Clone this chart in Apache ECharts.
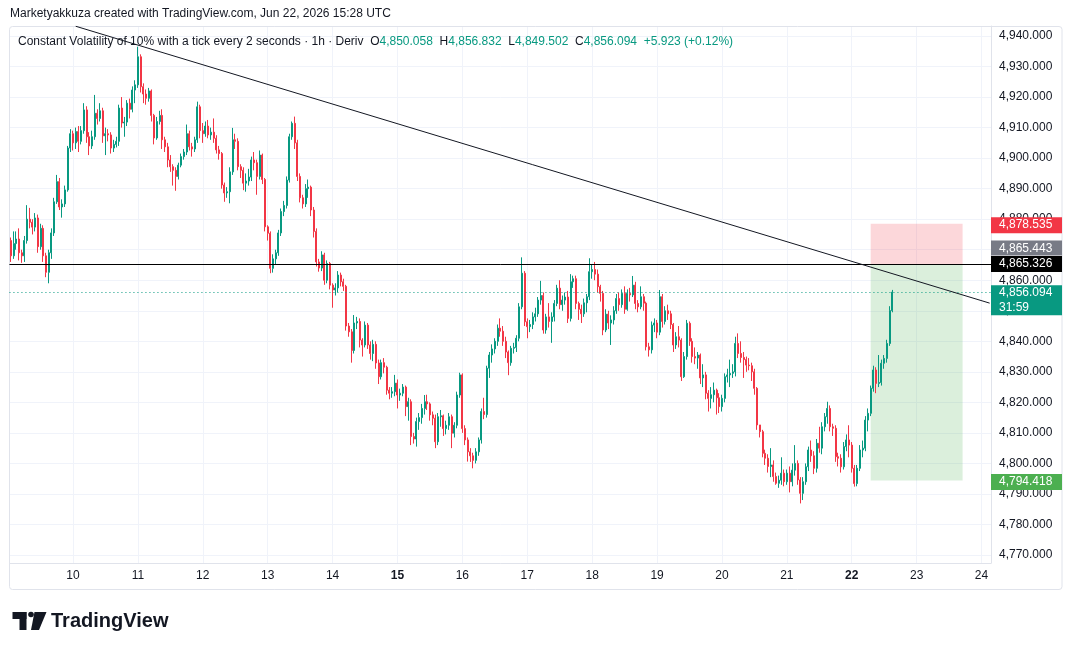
<!DOCTYPE html>
<html>
<head>
<meta charset="utf-8">
<script src="https://cdn.jsdelivr.net/npm/echarts@6/dist/echarts.min.js"></script>
<style>
  html, body { margin: 0; padding: 0; background: #fff; }
  #chart { width: 1072px; height: 650px; }
</style>
</head>
<body>
<div id="chart"></div>
<script>
// hourly bars, first one Jun 9 01:00 UTC, last one Jun 22 15:00 UTC
var firstOpen = 4873;

var closes = [
  // Jun 9
  4868, 4872, 4873.5, 4869, 4868, 4873, 4880, 4879, 4877.4, 4880.4, 4871, 4877, 4868, 4862.6, 4869, 4875.5, 4885.7, 4892.3, 4884, 4885, 4889.6, 4903.3, 4908,
  // Jun 10
  4905, 4908.7, 4905.5, 4909, 4915.8, 4907, 4904, 4907, 4914.7, 4913, 4915.5, 4907.3, 4908, 4907.6, 4903.3, 4904.5, 4905.5, 4916.4, 4911.5, 4911.8, 4918, 4916, 4922.3, 4924,
  // Jun 11
  4933.2, 4923.4, 4921, 4919.6, 4922, 4914, 4906.6, 4912, 4914, 4906, 4903.7, 4899.4, 4897.2, 4896, 4894, 4897.7, 4900.5, 4902, 4908, 4903.7, 4903, 4906, 4916.8, 4909,
  // Jun 12
  4908, 4910.5, 4907.6, 4908.5, 4906.5, 4902.7, 4901.5, 4891.2, 4888.6, 4889, 4895.5, 4906, 4905.5, 4897.2, 4896, 4891.8, 4892.5, 4893.8, 4899.4, 4898.5, 4894, 4901, 4893, 4877.5,
  // Jun 13
  4875.4, 4863.9, 4867, 4869, 4875.5, 4882.5, 4884.5, 4892.8, 4907, 4911.4, 4905, 4894, 4887, 4885, 4890, 4890.5, 4883, 4876, 4866, 4864, 4868.3, 4860, 4865.5, 4858.4,
  // Jun 14
  4856.8, 4857.5, 4861.7, 4859.5, 4858, 4845, 4843.1, 4837, 4846, 4846.5, 4840.4, 4838.8, 4845.3, 4838.8, 4836, 4839, 4832.9, 4828.4, 4833, 4831.5, 4824, 4823, 4823.5, 4826.3,
  // Jun 15
  4822.4, 4823, 4825, 4818.6, 4820.2, 4808.8, 4808, 4813.7, 4815, 4818, 4820.2, 4819.5, 4815.9, 4814.8, 4807.1, 4815.3, 4815.6, 4811.4, 4812.5, 4815.3, 4809.9, 4812.5, 4822.4, 4829,
  // Jun 16
  4811.4, 4807.7, 4803.8, 4802.5, 4801, 4803.8, 4807.7, 4817, 4816, 4831.2, 4835.5, 4837.5, 4840, 4844.3, 4843.3, 4840, 4836.5, 4833, 4837.7, 4838, 4841, 4851.3, 4862.3, 4846.4,
  // Jun 17
  4844.8, 4845.5, 4848, 4849, 4853.5, 4855, 4843.7, 4848, 4846.5, 4848, 4852.4, 4857.4, 4852, 4853.5, 4854.5, 4847.5, 4859.5, 4860.5, 4852.4, 4850.5, 4849, 4852.6, 4854.6, 4862.8,
  // Jun 18
  4863.5, 4862, 4857.9, 4855.7, 4843.7, 4848.9, 4846, 4847, 4850, 4854, 4852, 4855.7, 4850.5, 4855.7, 4855.2, 4858.4, 4852.4, 4851.3, 4854.6, 4852.5, 4838.2, 4837.2, 4845.3, 4846,
  // Jun 19
  4843, 4854.6, 4846.5, 4850, 4849, 4845.5, 4838.8, 4841.5, 4840.4, 4828.4, 4835, 4845.9, 4840, 4835, 4834.5, 4835.5, 4828, 4829, 4823, 4821.3, 4822.5, 4824, 4821.5, 4818.6,
  // Jun 20
  4821.3, 4828.4, 4829, 4829.5, 4830, 4839.3, 4836, 4834.7, 4834, 4832.2, 4832, 4830, 4824.6, 4812.6, 4810.4, 4803.3, 4801.7, 4799, 4799.5, 4795.7, 4793.5, 4794.5, 4796.8, 4794,
  // Jun 21
  4796.8, 4794, 4797.8, 4800, 4794.6, 4790.2, 4794, 4798.9, 4804.4, 4802.5, 4798.4, 4806.6, 4805, 4812, 4815.3, 4818, 4812, 4811.5, 4802.2, 4801.7, 4798.9, 4805.5, 4807.7, 4806,
  // Jun 22
  4798.4, 4793.4, 4798.4, 4804.4, 4805, 4814.2, 4816.4, 4824.6, 4830.6, 4826.2, 4826.5, 4832.8, 4834.4, 4839.3, 4850.058, 4856.094
];

var lows = [
  4866, 4867, 4870, 4866.5, 4865.7, 4866, 4872, 4877, 4875, 4876, 4869, 4870, 4866, 4861, 4859, 4867, 4874.5, 4885, 4883, 4880.5, 4884, 4889, 4902,
  4902.5, 4903, 4902, 4904.5, 4908, 4905, 4901, 4903, 4906, 4911, 4912, 4905, 4901, 4905.5, 4901.5, 4902, 4903.5, 4904, 4910, 4907, 4910.5, 4913, 4915, 4918,
  4923, 4921.5, 4918, 4917.5, 4918.5, 4912, 4904.5, 4906, 4911, 4903, 4902, 4897, 4895.5, 4891, 4889.3, 4893, 4897, 4899.5, 4901, 4902.5, 4900.5, 4902, 4905, 4906.5,
  4905, 4907, 4906.5, 4906, 4905, 4901.5, 4899.5, 4890, 4885.7, 4887, 4885.2, 4894.5, 4903, 4896, 4893.5, 4889.5, 4889, 4891, 4892.5, 4896, 4888, 4893, 4891.5, 4876,
  4873, 4862.3, 4862.5, 4865, 4868, 4874.5, 4881, 4883.5, 4892, 4906, 4903, 4892.5, 4885.5, 4883.5, 4884, 4887, 4881, 4874, 4864.5, 4862.8, 4863, 4858.5, 4859, 4857,
  4851, 4855, 4856, 4858, 4856.5, 4843.5, 4841.5, 4833, 4836, 4844, 4838, 4835, 4838, 4837.5, 4834, 4833.5, 4831, 4826, 4827.5, 4829.5, 4822.5, 4821, 4821.5, 4822,
  4818, 4820.5, 4822, 4815.5, 4814, 4806, 4806.5, 4805.5, 4811, 4813, 4816, 4817.5, 4814, 4812.5, 4805, 4806, 4812, 4809, 4809.5, 4811, 4805, 4808.5, 4811.5, 4821.5,
  4810, 4806, 4800.6, 4800.5, 4798.4, 4800, 4802.5, 4806.5, 4814.5, 4815, 4828, 4833, 4836, 4838.5, 4841.5, 4838.5, 4834.5, 4828.9, 4832, 4836, 4836.5, 4840, 4850.5, 4845,
  4841, 4843, 4844, 4846.5, 4848, 4852, 4842.5, 4842.5, 4844.5, 4839.5, 4846.5, 4851.5, 4850.5, 4850, 4852, 4846, 4846.5, 4857.5, 4850.5, 4847, 4846, 4848, 4849.5, 4853.5,
  4860.5, 4860, 4856, 4853, 4842, 4843, 4844, 4838.8, 4845.5, 4849, 4850, 4851, 4849, 4850, 4853, 4854.5, 4850.5, 4849.5, 4850.5, 4850, 4837, 4835, 4836, 4843,
  4841, 4842, 4844.5, 4845.5, 4847, 4844, 4836.5, 4837.5, 4838, 4827, 4828, 4834, 4838.5, 4833, 4832.5, 4831, 4826, 4825, 4821, 4817, 4818, 4820, 4816, 4816.5,
  4817, 4820, 4826.5, 4825, 4828, 4828.5, 4834.5, 4833, 4828, 4830, 4830.5, 4827, 4822.5, 4811, 4808.5, 4802, 4799.5, 4797, 4795.5, 4794, 4793, 4792, 4793, 4792.5,
  4793, 4790.5, 4792.5, 4796, 4793, 4786.9, 4788, 4793, 4797.5, 4800.5, 4796.5, 4797, 4803.5, 4803, 4810.5, 4813, 4810.5, 4809, 4800.5, 4799, 4797, 4798, 4804, 4802,
  4797, 4792.4, 4792.5, 4797.5, 4802, 4804, 4810.5, 4815.5, 4823.5, 4823, 4825, 4825.5, 4831, 4833, 4838.5, 4849.502
];

var highs = [
  4874, 4876, 4876, 4877, 4870, 4874.5, 4884.6, 4883.7, 4880, 4882, 4881.5, 4878.5, 4878, 4869, 4870, 4877, 4887, 4894.5, 4893.5, 4886.5, 4891, 4904, 4909.5,
  4909, 4910, 4910.5, 4910.5, 4918, 4917, 4908.5, 4909, 4920.7, 4916, 4918, 4916.5, 4910, 4909.5, 4908.5, 4906, 4907, 4917.5, 4920, 4913.5, 4919, 4919.5, 4923.5, 4925.5,
  4936.5, 4934, 4924.5, 4922.5, 4923, 4922.5, 4914.5, 4913.5, 4915.5, 4916, 4907, 4905, 4901, 4898, 4897, 4898.5, 4901.5, 4903, 4911, 4909, 4905, 4907, 4918.5, 4917.5,
  4911.5, 4912, 4912.5, 4910, 4913, 4907.5, 4904, 4902, 4892, 4890.5, 4897, 4909.9, 4908, 4906.5, 4898, 4897, 4895, 4896.5, 4900.5, 4902, 4899.5, 4902.5, 4901.5, 4893.5,
  4878, 4876, 4868.5, 4870, 4876.5, 4883.5, 4886, 4894, 4908, 4912, 4913.6, 4906, 4895, 4888, 4891.5, 4893, 4891, 4884, 4877, 4867, 4869.5, 4869, 4866.5, 4866,
  4859, 4859, 4863, 4862.5, 4860.5, 4858.5, 4846, 4844, 4848.6, 4848, 4847.5, 4841, 4846.5, 4846, 4840, 4840.5, 4840, 4834, 4834, 4834.5, 4832, 4825, 4825, 4829,
  4827.5, 4824.5, 4826, 4825.5, 4821.5, 4821, 4810, 4815, 4816.5, 4819.5, 4822.4, 4822.5, 4820, 4817, 4816, 4816.5, 4817.5, 4816, 4814, 4816.5, 4816, 4813.5, 4823.5, 4829.7,
  4829.5, 4812.5, 4808.5, 4805, 4803.5, 4805, 4808.5, 4818, 4821.5, 4832, 4836.5, 4839, 4841, 4845.5, 4847.5, 4845, 4841.5, 4837, 4838.5, 4839.5, 4842, 4852.5, 4867.5, 4863,
  4847.5, 4847, 4849.5, 4851, 4854.5, 4859.8, 4856, 4849, 4852.5, 4849.5, 4853.5, 4858.5, 4860, 4855, 4856, 4856.5, 4862, 4861.5, 4861.5, 4853, 4852, 4854, 4855.5, 4867.2,
  4865, 4866, 4863.5, 4858.5, 4856.5, 4850.5, 4850, 4848.5, 4851.5, 4855.5, 4856, 4857, 4858, 4857, 4857.5, 4861.4, 4859.5, 4853.5, 4858, 4855.5, 4853, 4839.5, 4846.5, 4847.5,
  4847, 4856.8, 4855.5, 4851.5, 4852, 4850, 4846, 4843, 4845, 4841, 4836.5, 4847, 4846.5, 4841, 4838, 4836.5, 4836, 4832.5, 4830, 4824, 4825, 4826.5, 4824.5, 4823,
  4822.5, 4829.5, 4831, 4834, 4832.5, 4841.5, 4842.6, 4840, 4836.5, 4835, 4834.5, 4833, 4831, 4825, 4812.5, 4811, 4804.5, 4803, 4805, 4801, 4797, 4796, 4802, 4798,
  4798, 4799, 4800, 4806, 4801, 4795.5, 4795.5, 4800, 4805.5, 4807.5, 4804, 4808, 4812, 4813.5, 4816.5, 4820.2, 4819, 4813, 4812.5, 4803.5, 4803, 4807, 4809.5, 4812.5,
  4807, 4799.5, 4799.5, 4806, 4807.5, 4815.5, 4818, 4825.5, 4832, 4831.5, 4835.5, 4834, 4835.5, 4840.5, 4851.5, 4856.832
];

var priceTicks = [4770, 4780, 4790, 4800, 4810, 4820, 4830, 4840, 4850, 4860, 4870, 4880, 4890, 4900, 4910, 4920, 4930, 4940];

// drawings on the chart
var hLinePrice = 4865.326;
var lastPrice = 4856.094;
var trendFrom = [24, 4943.2];   // [bar index, price]
var trendTo = [362, 4852.5];
var posFrom = 318, posTo = 352;
var posEntry = 4865.326, posStop = 4878.535, posTarget = 4794.418;

var UP = '#089981', DOWN = '#f23645', TXT = '#131722';
var FONT = '"Liberation Sans", Arial, sans-serif';

// hourly slots from Jun 9 01:00 to Jun 24 03:00
var cats = [], hours = [], days = [];
var t0 = Date.UTC(2026, 5, 9, 1);
for (var i = 0; i < 363; i++) {
  var d = new Date(t0 + i * 3600000);
  hours.push(d.getUTCHours());
  days.push(d.getUTCDate());
  cats.push('06-' + d.getUTCDate() + ' ' + d.getUTCHours() + ':00');
}

var candles = [];
for (var k = 0; k < cats.length; k++) {
  if (k < closes.length) {
    var o = k === 0 ? firstOpen : closes[k - 1];
    var c = closes[k];
    candles.push([o, c, Math.min(lows[k], o, c), Math.max(highs[k], o, c)]);
  } else {
    candles.push('-');
  }
}

function fmt(v) {
  return v.toLocaleString('en-US', { minimumFractionDigits: 3, maximumFractionDigits: 3 });
}

var chart = echarts.init(document.getElementById('chart'));

chart.setOption({
  animation: false,
  backgroundColor: '#ffffff',
  grid: { left: 9.45, right: 81, top: 26, bottom: 87 },
  xAxis: {
    type: 'category',
    data: cats,
    boundaryGap: true,
    axisLine: { show: true, lineStyle: { color: '#e0e3eb' } },
    axisTick: { show: false },
    axisLabel: {
      interval: function (i) { return hours[i] === 0; },
      margin: 7,
      color: TXT,
      fontSize: 12,
      fontFamily: FONT,
      formatter: function (v, i) {
        var dd = days[i];
        return (dd === 15 || dd === 22) ? '{b|' + dd + '}' : String(dd);
      },
      rich: { b: { fontWeight: 'bold', fontSize: 12, color: TXT, fontFamily: FONT } }
    },
    splitLine: {
      show: true,
      alignWithLabel: true,
      interval: function (i) { return hours[i] === 0; },
      lineStyle: { color: '#f0f3fa', width: 1 }
    }
  },
  yAxis: {
    type: 'value',
    position: 'right',
    min: 4767.38,
    max: 4943.28,
    axisLine: { show: true, lineStyle: { color: '#e0e3eb' } },
    axisTick: { show: false, customValues: priceTicks },
    axisLabel: {
      customValues: priceTicks,
      margin: 8,
      color: TXT,
      fontSize: 12,
      fontFamily: FONT,
      formatter: function (v) { return fmt(v); }
    },
    splitLine: { show: true, lineStyle: { color: '#f0f3fa', width: 1 } }
  },
  series: [
    {
      type: 'candlestick',
      data: candles,
      barWidth: 1.5,
      itemStyle: {
        color: UP, color0: DOWN,
        borderColor: UP, borderColor0: DOWN,
        borderWidth: 1
      },
      markArea: {
        silent: true,
        data: [
          [{ xAxis: cats[posFrom], yAxis: posEntry, itemStyle: { color: 'rgba(242,54,69,0.2)' } },
           { xAxis: cats[posTo], yAxis: posStop }],
          [{ xAxis: cats[posFrom], yAxis: posTarget, itemStyle: { color: 'rgba(76,175,80,0.2)' } },
           { xAxis: cats[posTo], yAxis: posEntry }]
        ]
      },
      markLine: {
        silent: true,
        symbol: ['none', 'none'],
        label: { show: false },
        data: [
          { yAxis: hLinePrice, lineStyle: { color: '#000000', width: 1, type: 'solid' } },
          { yAxis: lastPrice, lineStyle: { color: UP, width: 1, type: [1, 3] } }
        ]
      }
    },
    {
      type: 'line',
      silent: true,
      showSymbol: false,
      data: [[cats[trendFrom[0]], trendFrom[1]], [cats[trendTo[0]], trendTo[1]]],
      lineStyle: { color: TXT, width: 1 },
      z: 5
    }
  ]
});

// price tags on the right scale
function yOf(v) { return chart.convertToPixel({ yAxisIndex: 0 }, v); }
var tagX = 991, tagW = 71;
var tags = [];
function addTag(cy, h, bg, lines) {
  tags.push({ type: 'rect', shape: { x: tagX, y: cy - 8, width: tagW, height: h }, style: { fill: bg }, z: 100 });
  lines.forEach(function (s, j) {
    tags.push({
      type: 'text', x: 999, y: cy + j * 15, z: 101,
      style: { text: s, fill: '#ffffff', font: '12px ' + FONT, verticalAlign: 'middle' }
    });
  });
}
var yBlack = yOf(hLinePrice);
addTag(yOf(posStop) + 1.5, 16, DOWN, [fmt(posStop)]);
addTag(yBlack - 15.5, 15, '#787b86', [fmt(4865.443)]);
addTag(yBlack, 16, '#000000', [fmt(hLinePrice)]);
addTag(yOf(lastPrice) + 1, 30, UP, [fmt(lastPrice), '31:59']);
addTag(yOf(posTarget) + 1.5, 16, '#4caf50', [fmt(posTarget)]);

chart.setOption({
  graphic: [
    { type: 'rect', shape: { x: 9.5, y: 26.5, width: 1052.5, height: 563, r: 3 },
      style: { fill: 'none', stroke: '#e0e3eb', lineWidth: 1 }, z: 1, silent: true },
    { type: 'text', x: 10, y: 14, style: {
        text: 'Marketyakkuza created with TradingView.com, Jun 22, 2026 15:28 UTC',
        font: '12px ' + FONT, fill: TXT, verticalAlign: 'middle' } },
    { type: 'text', x: 18, y: 42, z: 50, style: {
        text: '{t|Constant Volatility of 10% with a tick every 2 seconds · 1h · Deriv}  {k|O}{v|4,850.058}  {k|H}{v|4,856.832}  {k|L}{v|4,849.502}  {k|C}{v|4,856.094}  {v|+5.923 (+0.12%)}',
        verticalAlign: 'middle',
        rich: {
          t: { font: '12px ' + FONT, fill: TXT },
          k: { font: '12px ' + FONT, fill: TXT },
          v: { font: '12px ' + FONT, fill: UP }
        } } },
    // TradingView logo
    { type: 'rect', shape: { x: 12.5, y: 612, width: 14, height: 7 }, style: { fill: TXT } },
    { type: 'rect', shape: { x: 19.5, y: 612, width: 7, height: 18 }, style: { fill: TXT } },
    { type: 'circle', shape: { cx: 31, cy: 614.5, r: 2.8 }, style: { fill: TXT } },
    { type: 'polygon', shape: { points: [[34.5, 612], [46.5, 612], [39, 630], [31, 630]] }, style: { fill: TXT } },
    { type: 'text', x: 51, y: 621, style: { text: 'TradingView', font: 'bold 20px ' + FONT, fill: TXT, verticalAlign: 'middle' } }
  ].concat(tags)
});
</script>
</body>
</html>
